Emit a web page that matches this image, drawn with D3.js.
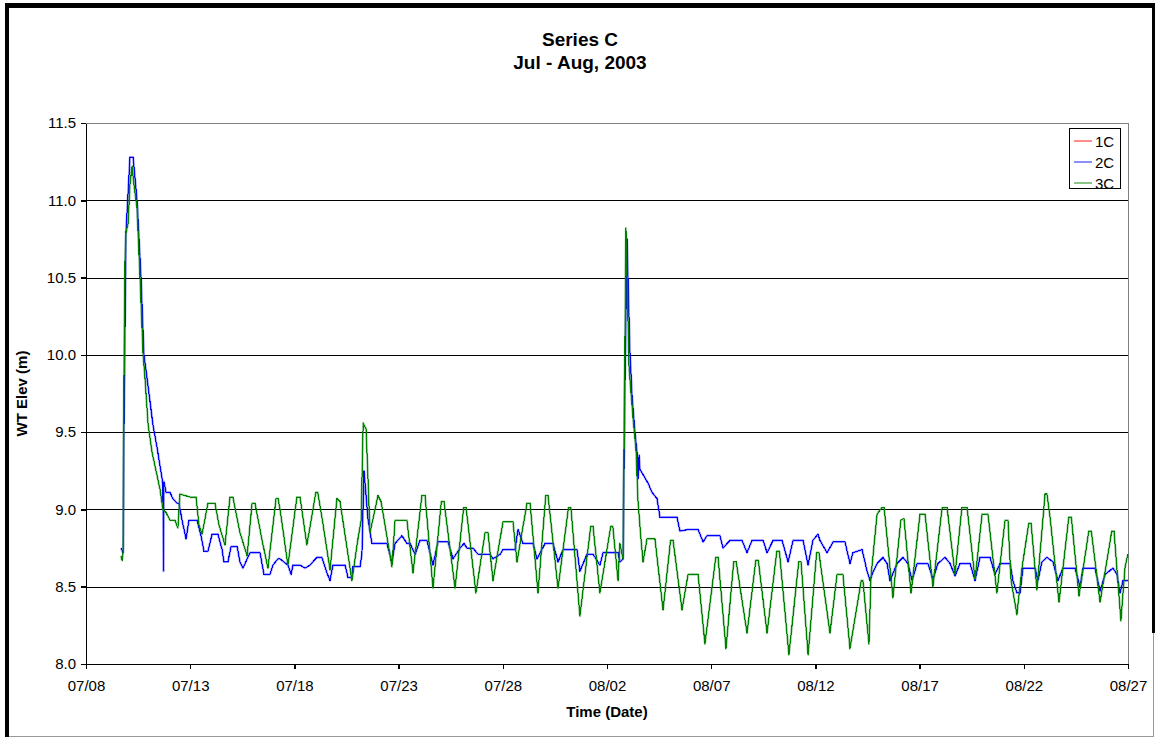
<!DOCTYPE html>
<html>
<head>
<meta charset="utf-8">
<script src="https://cdn.jsdelivr.net/npm/d3@7"></script>
<style>
  html, body { margin: 0; padding: 0; background: #fff; }
  svg { display: block; }
  text { font-family: "Liberation Sans", Arial, Helvetica, sans-serif; fill: #000; }
</style>
</head>
<body>
<svg id="chart" width="1155" height="738"></svg>
<script>
// Water-table elevation, Series C wells, July - August 2003.
// Readings are [days since 07/08 00:00, elevation in m].

const seriesNames = ["1C", "2C", "3C"];
const seriesColors = ["#ff0000", "#0000ff", "#008000"];

const xTickLabels = ["07/08", "07/13", "07/18", "07/23", "07/28", "08/02",
                     "08/07", "08/12", "08/17", "08/22", "08/27"];
const yTickLabels = ["8.0", "8.5", "9.0", "9.5", "10.0", "10.5", "11.0", "11.5"];

const wt2C = [
  [1.68, 8.75], [1.78, 8.72], [1.82, 9.50], [1.92, 10.80], [2.02, 11.05],
  [2.11, 11.28], [2.26, 11.28], [2.45, 11.00], [2.64, 10.50], [2.78, 10.00],
  [2.93, 9.85], [3.07, 9.70], [3.21, 9.55], [3.41, 9.40], [3.65, 9.20],
  [3.69, 9.15], [3.72, 8.60], [3.74, 9.18], [3.84, 9.11], [4.03, 9.11],
  [4.17, 9.07], [4.37, 9.04], [4.46, 9.04], [4.61, 8.93], [4.80, 8.81],
  [4.94, 8.93], [5.33, 8.93], [5.52, 8.83], [5.66, 8.73], [5.85, 8.73],
  [6.05, 8.84], [6.33, 8.84], [6.53, 8.74], [6.62, 8.66], [6.81, 8.66],
  [6.96, 8.76], [7.25, 8.76], [7.39, 8.66], [7.53, 8.62], [7.87, 8.72],
  [8.35, 8.72], [8.54, 8.58], [8.83, 8.58], [8.97, 8.64], [9.21, 8.68],
  [9.31, 8.68], [9.69, 8.64], [9.84, 8.58], [9.93, 8.64], [10.27, 8.64],
  [10.51, 8.62], [10.75, 8.64], [11.08, 8.69], [11.32, 8.69], [11.56, 8.59],
  [11.71, 8.54], [11.85, 8.64], [12.43, 8.64], [12.57, 8.56], [12.76, 8.56],
  [12.81, 8.63], [13.15, 8.63], [13.24, 8.71], [13.34, 9.25], [13.53, 8.94],
  [13.72, 8.78], [14.44, 8.78], [14.68, 8.66], [14.83, 8.78], [15.16, 8.83],
  [15.40, 8.78], [15.55, 8.78], [15.79, 8.71], [16.03, 8.80], [16.36, 8.80],
  [16.65, 8.64], [16.89, 8.79], [17.37, 8.79], [17.61, 8.68], [17.95, 8.75],
  [18.14, 8.78], [18.28, 8.75], [18.57, 8.75], [18.81, 8.71], [19.39, 8.71],
  [19.53, 8.68], [19.87, 8.71], [20.01, 8.74], [20.59, 8.74], [20.73, 8.87],
  [20.97, 8.78], [21.45, 8.78], [21.64, 8.68], [22.03, 8.78], [22.41, 8.78],
  [22.65, 8.66], [22.89, 8.74], [23.56, 8.74], [23.70, 8.60], [24.04, 8.71],
  [24.33, 8.71], [24.66, 8.64], [24.81, 8.72], [25.53, 8.72], [25.62, 8.66],
  [25.77, 8.68], [25.86, 9.80], [25.96, 10.75], [26.10, 10.02], [26.20, 9.74],
  [26.34, 9.50], [26.44, 9.37], [26.49, 9.20], [26.54, 9.35], [26.58, 9.26],
  [26.97, 9.17], [27.16, 9.11], [27.40, 9.07], [27.54, 8.95], [28.36, 8.95],
  [28.50, 8.86], [28.89, 8.87], [29.37, 8.87], [29.61, 8.79], [29.80, 8.83],
  [30.42, 8.83], [30.57, 8.75], [30.90, 8.80], [31.48, 8.80], [31.72, 8.72],
  [31.96, 8.80], [32.49, 8.80], [32.68, 8.72], [32.97, 8.80], [33.40, 8.80],
  [33.69, 8.66], [33.93, 8.80], [34.41, 8.80], [34.65, 8.64], [34.88, 8.80],
  [35.12, 8.84], [35.22, 8.80], [35.56, 8.72], [35.85, 8.79], [36.42, 8.79],
  [36.66, 8.65], [36.80, 8.72], [37.24, 8.74], [37.48, 8.60], [37.62, 8.54],
  [37.72, 8.58], [37.96, 8.65], [38.24, 8.69], [38.44, 8.65], [38.58, 8.54],
  [38.92, 8.65], [39.20, 8.69], [39.44, 8.65], [39.64, 8.54], [39.88, 8.65],
  [40.40, 8.65], [40.64, 8.55], [40.88, 8.65], [41.22, 8.69], [41.46, 8.65],
  [41.70, 8.57], [41.94, 8.65], [42.42, 8.65], [42.66, 8.54], [42.90, 8.69],
  [43.38, 8.69], [43.62, 8.58], [43.86, 8.65], [44.34, 8.65], [44.48, 8.54],
  [44.67, 8.46], [44.82, 8.46], [44.96, 8.62], [45.54, 8.62], [45.68, 8.54],
  [45.87, 8.66], [46.11, 8.69], [46.40, 8.66], [46.64, 8.54], [46.88, 8.62],
  [47.46, 8.62], [47.70, 8.50], [47.84, 8.62], [48.42, 8.62], [48.66, 8.47],
  [48.90, 8.58], [49.28, 8.62], [49.47, 8.58], [49.62, 8.46], [49.76, 8.54],
  [50.00, 8.54]
];

const wt3C = [
  [1.68, 8.70], [1.73, 8.67], [1.78, 8.72], [1.82, 9.80], [1.87, 10.60],
  [1.92, 10.79], [2.02, 10.85], [2.11, 11.10], [2.21, 11.22], [2.30, 11.10],
  [2.45, 10.95], [2.59, 10.50], [2.74, 10.00], [2.83, 9.85], [2.98, 9.55],
  [3.17, 9.37], [3.36, 9.25], [3.55, 9.13], [3.69, 9.00], [3.84, 8.98],
  [4.03, 8.93], [4.27, 8.93], [4.41, 8.88], [4.51, 9.10], [4.99, 9.08],
  [5.28, 9.08], [5.42, 8.90], [5.57, 8.84], [5.85, 9.04], [6.19, 9.04],
  [6.38, 8.90], [6.67, 8.77], [6.91, 9.08], [7.05, 9.08], [7.39, 8.85],
  [7.73, 8.70], [7.97, 9.04], [8.11, 9.04], [8.45, 8.80], [8.73, 8.62],
  [9.12, 9.07], [9.22, 9.07], [9.31, 9.00], [9.69, 8.64], [10.12, 9.08], [10.27, 9.08],
  [10.60, 8.77], [11.03, 9.11], [11.12, 9.11], [11.32, 8.95], [11.71, 8.61], [12.04, 9.07],
  [12.19, 9.05], [12.76, 8.54], [13.05, 8.81], [13.20, 8.93], [13.30, 9.56],
  [13.44, 9.52], [13.63, 8.85], [14.01, 9.09], [14.16, 9.05], [14.68, 8.63],
  [14.83, 8.93], [15.40, 8.93], [15.69, 8.59], [16.12, 9.09], [16.27, 9.09],
  [16.65, 8.49], [17.05, 9.05], [17.18, 9.05], [17.71, 8.49], [18.12, 9.01], [18.24, 9.01],
  [18.71, 8.46], [19.15, 8.85], [19.29, 8.85], [19.53, 8.54], [20.01, 8.92], [20.49, 8.92],
  [20.68, 8.66], [21.16, 9.04], [21.31, 9.04], [21.69, 8.46], [22.06, 9.09], [22.17, 9.09],
  [22.65, 8.49], [23.15, 9.01], [23.27, 9.01], [23.70, 8.31], [24.22, 8.89], [24.33, 8.89],
  [24.66, 8.46], [25.18, 8.89], [25.28, 8.89], [25.53, 8.54], [25.62, 8.78], [25.77, 8.68],
  [25.91, 10.82], [26.06, 9.91], [26.25, 9.59], [26.39, 9.39], [26.49, 9.05],
  [26.63, 8.81], [26.73, 8.66], [26.92, 8.81], [27.30, 8.81], [27.69, 8.35],
  [28.05, 8.80], [28.17, 8.80], [28.60, 8.35], [28.89, 8.58], [29.37, 8.58],
  [29.70, 8.13], [30.22, 8.69], [30.33, 8.69], [30.71, 8.10], [31.08, 8.66], [31.20, 8.66],
  [31.72, 8.20], [32.14, 8.67], [32.26, 8.67], [32.68, 8.20], [33.15, 8.73], [33.27, 8.73],
  [33.73, 8.06], [34.20, 8.66], [34.31, 8.66], [34.65, 8.06], [35.06, 8.72], [35.17, 8.72],
  [35.70, 8.20], [36.04, 8.58], [36.32, 8.58], [36.66, 8.10], [37.20, 8.54], [37.28, 8.54],
  [37.57, 8.13], [37.67, 8.57], [37.96, 8.97], [38.18, 9.01], [38.30, 9.01], [38.72, 8.43],
  [39.10, 8.93], [39.25, 8.94], [39.59, 8.46], [40.02, 8.97], [40.26, 8.97],
  [40.64, 8.50], [41.08, 9.01], [41.32, 9.01], [41.70, 8.58], [42.03, 9.01],
  [42.28, 9.01], [42.66, 8.55], [43.00, 8.97], [43.28, 8.97], [43.71, 8.46],
  [44.10, 8.93], [44.24, 8.93], [44.39, 8.54], [44.67, 8.32], [44.91, 8.62],
  [45.24, 8.91], [45.35, 8.91], [45.63, 8.48], [46.02, 9.10], [46.11, 9.10], [46.26, 8.95],
  [46.69, 8.40], [47.16, 8.95], [47.28, 8.95], [47.65, 8.44], [48.12, 8.86], [48.24, 8.86],
  [48.66, 8.40], [49.22, 8.86], [49.33, 8.86], [49.66, 8.28], [49.86, 8.63], [50.00, 8.71]
];

// 1C logged the same levels as 2C over the whole record, so its trace lies under 2C.
const wt1C = wt2C;

const seriesData = [wt1C, wt2C, wt3C];

// ---- layout ----
const W = 1155, H = 738;
const plot = { left: 86, right: 1128, top: 123, bottom: 664 };

const svg = d3.select("#chart");
svg.append("rect").attr("width", W).attr("height", H).attr("fill", "#fff");

const parseTick = d3.timeParse("%m/%d/%Y");
const tickDates = xTickLabels.map(s => parseTick(s + "/2003"));
const origin = tickDates[0];
const toDate = d => new Date(origin.getTime() + d * 864e5);

const x = d3.scaleTime()
  .domain([tickDates[0], tickDates[tickDates.length - 1]])
  .range([plot.left, plot.right]);

const yTicks = yTickLabels.map(Number);
const y = d3.scaleLinear()
  .domain([yTicks[0], yTicks[yTicks.length - 1]])
  .range([plot.bottom, plot.top]);

// horizontal gridlines
svg.append("g")
  .attr("shape-rendering", "crispEdges")
  .selectAll("line")
  .data(yTicks.slice(1, -1))
  .join("line")
  .attr("x1", plot.left).attr("x2", plot.right)
  .attr("y1", d => Math.round(y(d)) + 0.5).attr("y2", d => Math.round(y(d)) + 0.5)
  .attr("stroke", "#000").attr("stroke-width", 1);

// plot area outline (top and right)
svg.append("path")
  .attr("d", `M${plot.left},${plot.top + 0.5}H${plot.right + 0.5}V${plot.bottom}`)
  .attr("fill", "none").attr("stroke", "#808080").attr("stroke-width", 1)
  .attr("shape-rendering", "crispEdges");

// series traces: a soft wide under-stroke, then a pixel-crisp core
const line = d3.line()
  .x(d => x(toDate(d[0])))
  .y(d => y(d[1]));

const traces = svg.append("g");
seriesData.forEach((data, i) => {
  const hidden = i < seriesData.length - 1 && data === seriesData[i + 1];
  if (!hidden) {
    traces.append("path")
      .attr("d", line(data))
      .attr("fill", "none")
      .attr("stroke", seriesColors[i])
      .attr("stroke-opacity", 0.45)
      .attr("stroke-width", 2.2)
      .attr("stroke-linejoin", "round");
  }
  traces.append("path")
    .attr("d", line(data))
    .attr("fill", "none")
    .attr("stroke", seriesColors[i])
    .attr("stroke-width", 1)
    .attr("shape-rendering", "crispEdges");
});

// axes
const xAxis = d3.axisBottom(x)
  .tickValues(tickDates)
  .tickFormat((d, i) => xTickLabels[i])
  .tickSize(5).tickSizeOuter(0).tickPadding(11);

const yAxis = d3.axisLeft(y)
  .tickValues(yTicks)
  .tickFormat((d, i) => yTickLabels[i])
  .tickSize(5).tickSizeOuter(0).tickPadding(5);

const gx = svg.append("g")
  .attr("transform", `translate(0,${plot.bottom})`)
  .call(xAxis);
const gy = svg.append("g")
  .attr("transform", `translate(${plot.left},0)`)
  .call(yAxis);

[gx, gy].forEach(g => {
  g.attr("shape-rendering", "crispEdges");
  g.select(".domain").attr("stroke", "#000").attr("stroke-width", 1.5);
  g.selectAll(".tick line").attr("stroke", "#000").attr("stroke-width", 1.5);
  g.selectAll(".tick text")
    .attr("font-family", '"Liberation Sans", Arial, sans-serif')
    .attr("font-size", 15)
    .attr("fill", "#000");
});

// titles
svg.append("text")
  .attr("x", 580).attr("y", 46)
  .attr("text-anchor", "middle")
  .attr("font-size", 19).attr("font-weight", "bold")
  .text("Series C");
svg.append("text")
  .attr("x", 580).attr("y", 69)
  .attr("text-anchor", "middle")
  .attr("font-size", 19).attr("font-weight", "bold")
  .text("Jul - Aug, 2003");

svg.append("text")
  .attr("x", (plot.left + plot.right) / 2).attr("y", 717)
  .attr("text-anchor", "middle")
  .attr("font-size", 15).attr("font-weight", "bold")
  .text("Time (Date)");

svg.append("text")
  .attr("transform", `translate(27,${(plot.top + plot.bottom) / 2}) rotate(-90)`)
  .attr("text-anchor", "middle")
  .attr("font-size", 15).attr("font-weight", "bold")
  .text("WT Elev (m)");

// legend
const legend = svg.append("g").attr("transform", "translate(1069,128)");
legend.append("rect")
  .attr("x", 0.5).attr("y", 0.5).attr("width", 51).attr("height", 60)
  .attr("fill", "#fff").attr("stroke", "#000").attr("stroke-width", 1);
seriesNames.forEach((name, i) => {
  const cy = 13 + i * 21;
  legend.append("line")
    .attr("x1", 5).attr("x2", 23).attr("y1", cy).attr("y2", cy)
    .attr("stroke", seriesColors[i]).attr("stroke-width", 1.5).attr("opacity", 0.6);
  legend.append("text")
    .attr("x", 26).attr("y", cy + 5.5)
    .attr("font-size", 15)
    .text(name);
});

// outer frame
const frame = svg.append("g").attr("shape-rendering", "crispEdges");
frame.append("rect").attr("x", 5).attr("y", 3).attr("width", 1150).attr("height", 5).attr("fill", "#000");
frame.append("rect").attr("x", 5).attr("y", 3).attr("width", 4).attr("height", 734).attr("fill", "#000");
frame.append("rect").attr("x", 1152).attr("y", 3).attr("width", 3).attr("height", 630).attr("fill", "#000");
frame.append("line").attr("x1", 9).attr("x2", 1154).attr("y1", 736.5).attr("y2", 736.5)
  .attr("stroke", "#999").attr("stroke-width", 1);
frame.append("line").attr("x1", 1153.5).attr("x2", 1153.5).attr("y1", 633).attr("y2", 737)
  .attr("stroke", "#999").attr("stroke-width", 1);
</script>
</body>
</html>
